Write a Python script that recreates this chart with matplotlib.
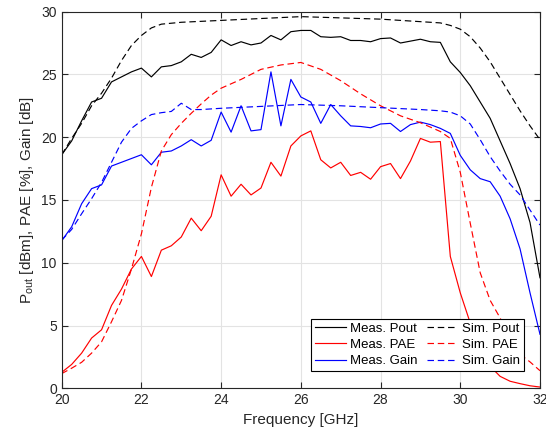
import numpy as np
import matplotlib
matplotlib.use("Agg")
import matplotlib.pyplot as plt

# measured data, 0.25 GHz steps
freq_meas = [20.0, 20.25, 20.5, 20.75, 21.0, 21.25, 21.5, 21.75, 22.0, 22.25, 22.5, 22.75,
             23.0, 23.25, 23.5, 23.75, 24.0, 24.25, 24.5, 24.75, 25.0, 25.25, 25.5, 25.75,
             26.0, 26.25, 26.5, 26.75, 27.0, 27.25, 27.5, 27.75, 28.0, 28.25, 28.5, 28.75,
             29.0, 29.25, 29.5, 29.75, 30.0, 30.25, 30.5, 30.75, 31.0, 31.25, 31.5, 31.75, 32.0]
meas_pout = [18.6, 19.7, 21.3, 22.8, 23.1, 24.4, 24.8, 25.2, 25.5, 24.8, 25.6, 25.7,
             26.0, 26.6, 26.35, 26.75, 27.75, 27.3, 27.6, 27.35, 27.5, 28.1, 27.75, 28.4,
             28.5, 28.5, 28.0, 27.95, 28.0, 27.7, 27.7, 27.6, 27.85, 27.9, 27.5, 27.65,
             27.8, 27.6, 27.55, 26.0, 25.15, 24.1, 22.8, 21.5, 19.7, 17.9, 15.9, 13.2, 8.8]
meas_pae = [1.27, 1.9, 2.8, 4.0, 4.66, 6.6, 7.9, 9.5, 10.5, 8.9, 11.0, 11.35,
            12.05, 13.55, 12.55, 13.7, 17.0, 15.3, 16.25, 15.4, 15.95, 18.0, 16.9, 19.3,
            20.1, 20.5, 18.2, 17.55, 18.0, 16.95, 17.2, 16.65, 17.65, 17.9, 16.7, 18.1,
            19.9, 19.6, 19.65, 10.5, 7.6, 5.2, 3.1, 1.75, 0.95, 0.56, 0.37, 0.2, 0.1]
meas_gain = [11.75, 12.86, 14.7, 15.9, 16.2, 17.7, 18.0, 18.3, 18.6, 17.8, 18.8, 18.9,
             19.3, 19.8, 19.3, 19.75, 22.0, 20.4, 22.5, 20.5, 20.6, 25.2, 20.9, 24.6,
             23.2, 22.8, 21.1, 22.6, 21.7, 20.9, 20.85, 20.75, 21.05, 21.1, 20.45, 21.0,
             21.2, 21.0, 20.7, 20.3, 18.55, 17.4, 16.7, 16.45, 15.3, 13.5, 11.1, 7.6, 4.3]

# simulated data
freq_sim_pout = [20.0, 20.25, 20.5, 20.75, 21.0, 21.25, 21.5, 21.75, 22.0, 22.25, 22.5, 23.0,
                 24.0, 25.0, 26.0, 27.0, 28.0, 29.0, 29.5, 29.75, 30.0, 30.25, 30.5, 30.75,
                 31.0, 31.25, 31.5, 31.75, 32.0]
sim_pout = [18.6, 19.9, 21.1, 22.5, 23.5, 24.7, 26.1, 27.3, 28.1, 28.7, 29.0, 29.15,
            29.3, 29.45, 29.6, 29.5, 29.4, 29.2, 29.1, 28.9, 28.6, 28.0, 27.1, 26.0,
            24.7, 23.4, 22.1, 20.9, 19.8]

freq_sim_pae = [20.0, 20.25, 20.5, 20.75, 21.0, 21.25, 21.5, 21.75, 22.0, 22.25, 22.5, 22.75,
                23.0, 23.25, 23.5, 23.75, 24.0, 24.5, 25.0, 25.5, 26.0, 26.5, 27.0, 27.5,
                28.0, 28.5, 29.0, 29.5, 29.75, 30.0, 30.25, 30.5, 30.75, 31.0, 31.25, 31.5,
                31.75, 32.0]
sim_pae = [1.17, 1.6, 2.07, 2.8, 3.7, 5.3, 7.0, 9.5, 12.3, 16.0, 18.9, 20.2,
           21.1, 21.9, 22.65, 23.35, 23.9, 24.6, 25.4, 25.75, 25.95, 25.4, 24.5, 23.45,
           22.5, 21.7, 21.15, 20.45, 19.9, 17.2, 13.15, 9.2, 7.0, 5.6, 3.9, 2.7,
           2.1, 1.4]

freq_sim_gain = [20.0, 20.25, 20.5, 20.75, 21.0, 21.25, 21.5, 21.75, 22.0, 22.25, 22.5, 22.75,
                 23.0, 23.25, 23.5, 24.0, 25.0, 26.0, 27.0, 28.0, 29.0, 29.5, 29.75, 30.0,
                 30.25, 30.5, 30.75, 31.0, 31.25, 31.5, 31.75, 32.0]
sim_gain = [11.8, 12.65, 13.9, 15.1, 16.4, 18.0, 19.6, 20.7, 21.3, 21.8, 21.95, 22.05,
            22.7, 22.2, 22.2, 22.3, 22.45, 22.6, 22.5, 22.35, 22.2, 22.1, 22.0, 21.7,
            21.05, 19.8, 18.45, 17.3, 16.25, 15.4, 14.2, 13.0]

plt.rcParams['font.family'] = ['Liberation Sans', 'DejaVu Sans']
plt.rcParams['font.size'] = 10

fig = plt.figure(figsize=(5.46, 4.38), dpi=100)
ax = fig.add_axes([0.113, 0.1135, 0.876, 0.86])

lw = 0.85
dsh = (5.5, 3.2)
l1, = ax.plot(freq_meas, meas_pout, color='k', lw=lw, label='Meas. Pout')
l2, = ax.plot(freq_meas, meas_pae, color='r', lw=lw, label='Meas. PAE')
l3, = ax.plot(freq_meas, meas_gain, color='b', lw=lw, label='Meas. Gain')
l4, = ax.plot(freq_sim_pout, sim_pout, color='k', lw=lw, dashes=dsh, label='Sim. Pout')
l5, = ax.plot(freq_sim_pae, sim_pae, color='r', lw=lw, dashes=dsh, label='Sim. PAE')
l6, = ax.plot(freq_sim_gain, sim_gain, color='b', lw=lw, dashes=dsh, label='Sim. Gain')

ax.set_xlim(20, 32)
ax.set_ylim(0, 30)
ax.set_xticks(np.arange(20, 33, 2))
ax.set_yticks(np.arange(0, 31, 5))
ax.grid(True, color='#e3e3e3', lw=0.8)
ax.set_axisbelow(True)
axc = '#262626'
for s in ax.spines.values():
    s.set_color(axc)
    s.set_linewidth(0.8)
ax.tick_params(direction='in', length=4, width=0.8, colors=axc, top=True, right=True, labelsize=10)
ax.set_xlabel('Frequency [GHz]', color=axc, fontsize=11)
ax.set_ylabel('P$_{\\mathregular{out}}$ [dBm], PAE [%], Gain [dB]', color=axc, fontsize=11)

leg = ax.legend(handles=[l1, l2, l3, l4, l5, l6], ncol=2, loc='lower right',
                bbox_to_anchor=(0.98, 0.028), fontsize=9.5, handlelength=2.3,
                handletextpad=0.35, columnspacing=0.7, labelspacing=0.3,
                borderpad=0.3, fancybox=False, framealpha=1, edgecolor='k')
leg.get_frame().set_linewidth(0.8)

fig.savefig('out.png', dpi=100)
